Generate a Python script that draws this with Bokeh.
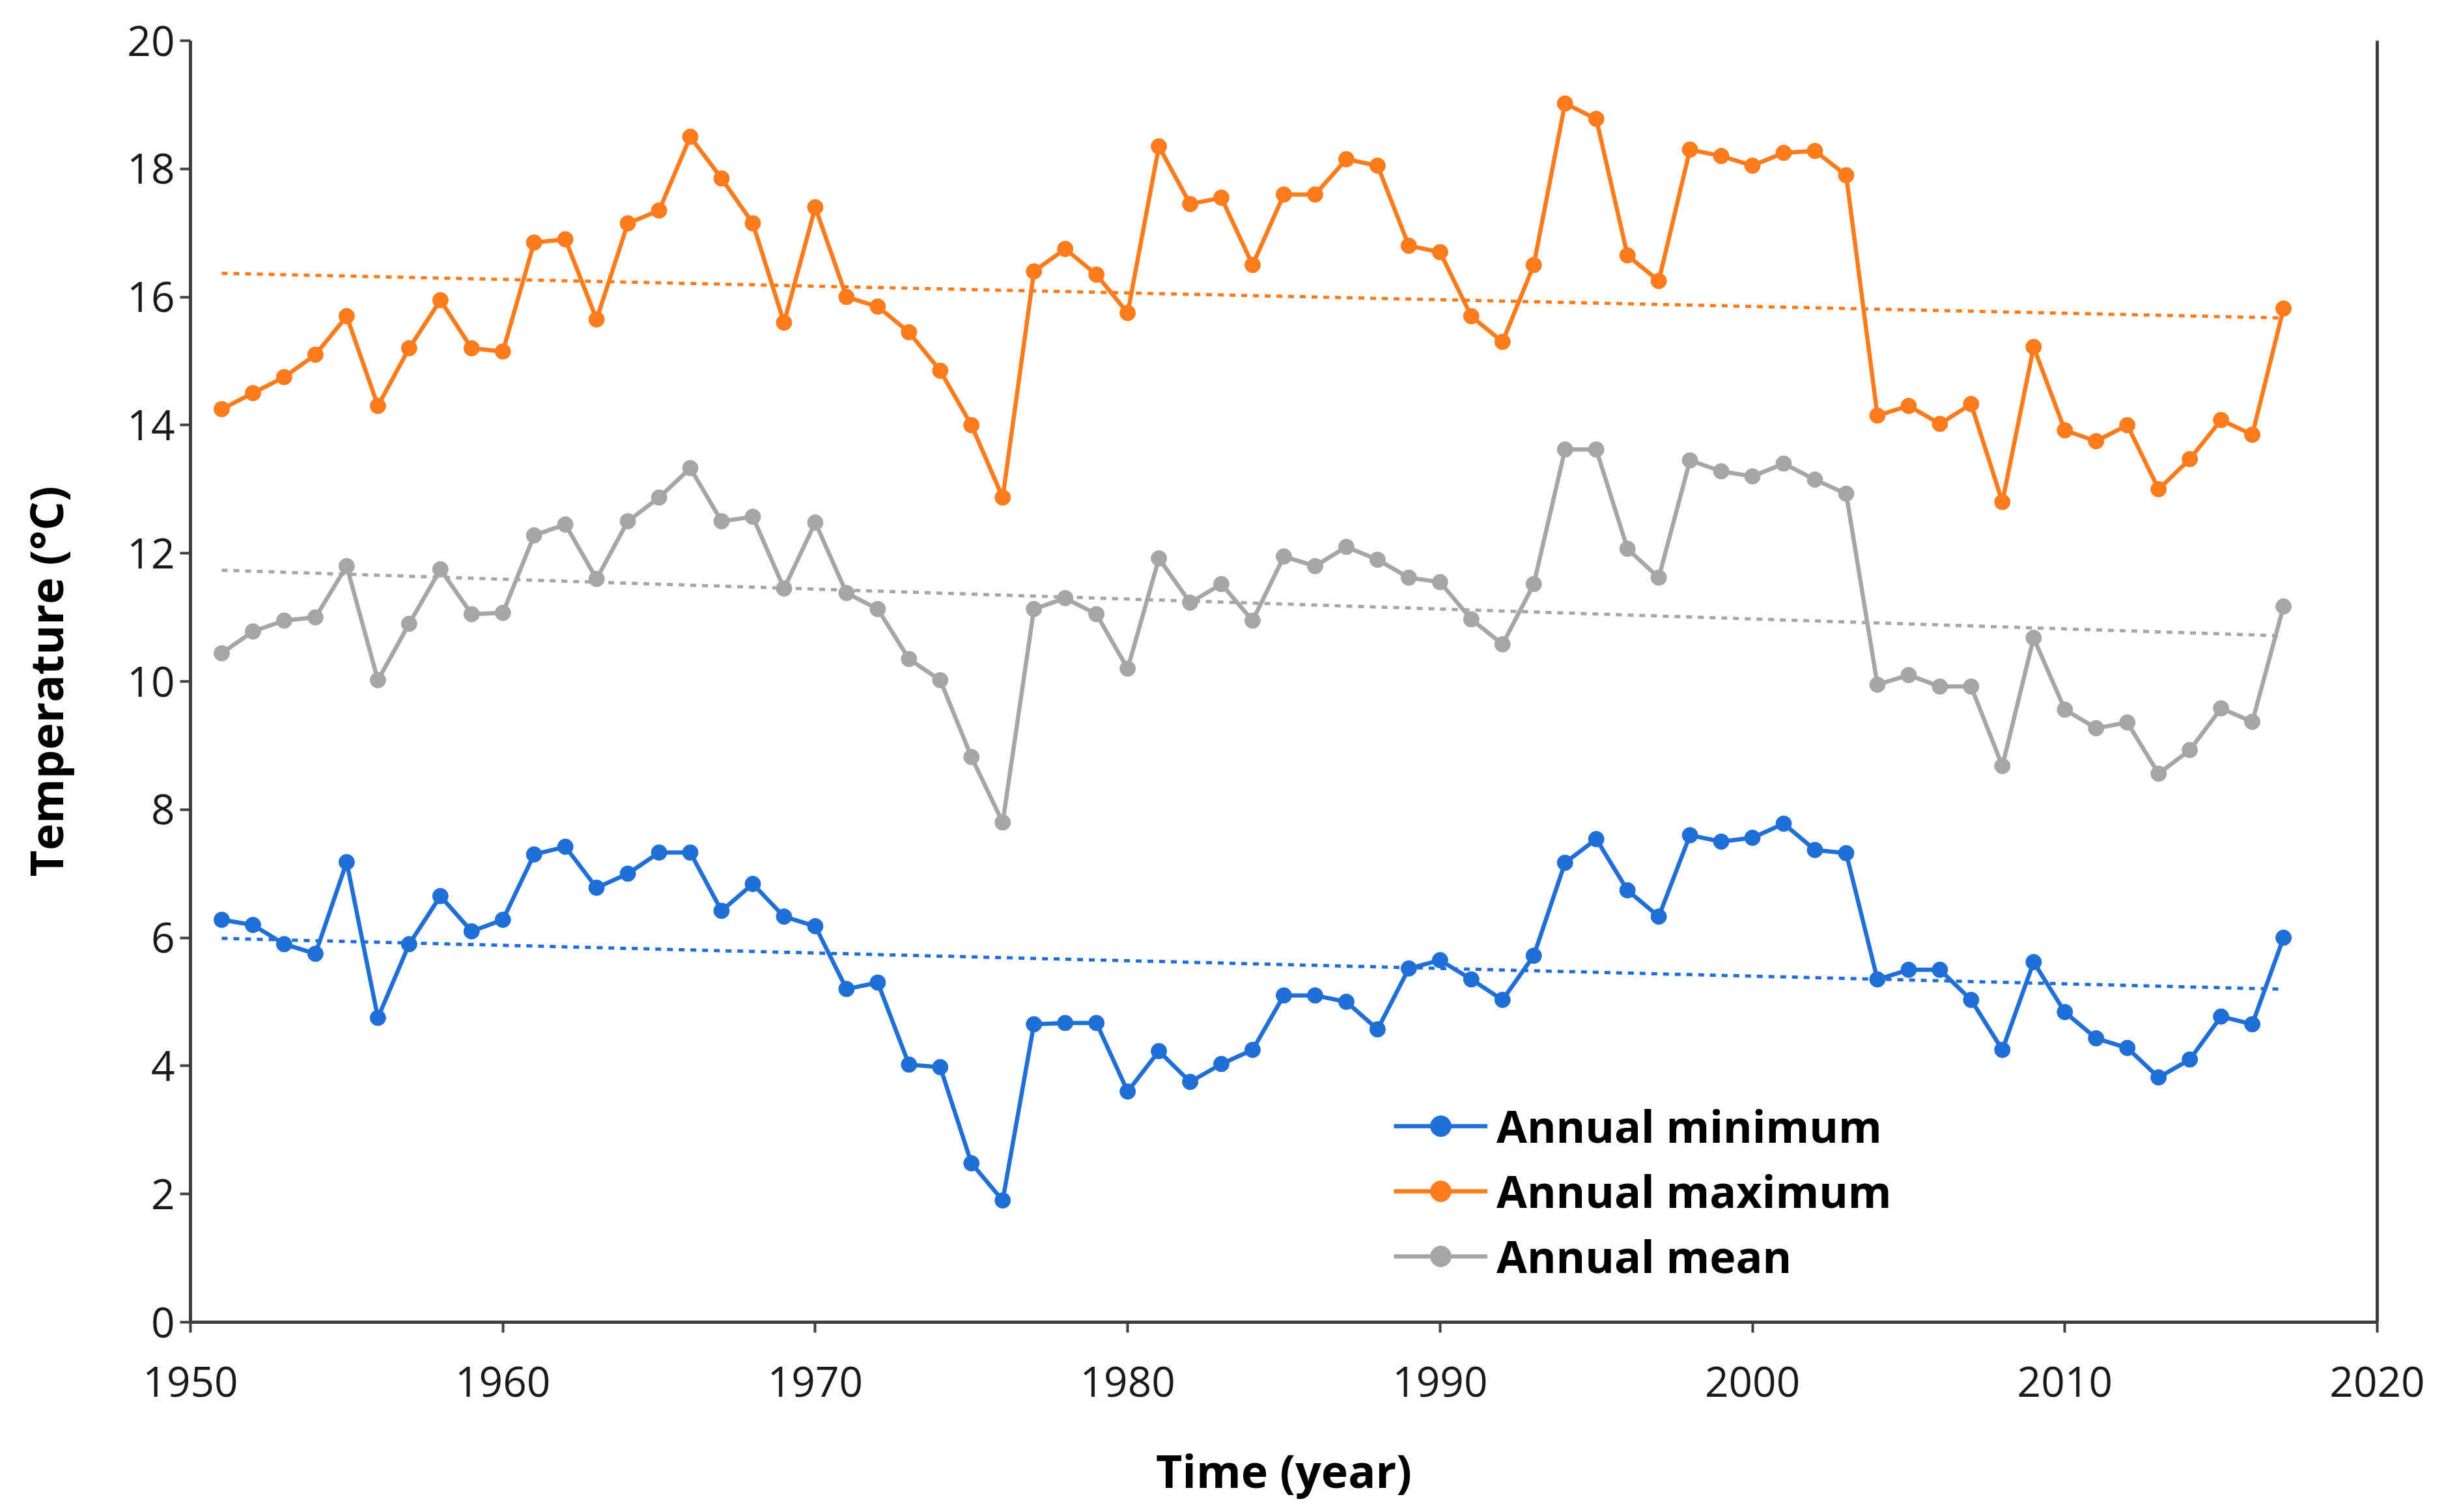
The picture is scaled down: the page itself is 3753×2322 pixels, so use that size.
import numpy as np
from bokeh.plotting import figure
from bokeh.models import Range1d, FixedTicker, LinearAxis, Legend, LegendItem
from bokeh.embed import file_html
from bokeh.resources import INLINE

years = list(range(1951, 2018))

annual_max = [14.25, 14.5, 14.75, 15.1, 15.7, 14.3, 15.2, 15.95, 15.2, 15.15,
              16.85, 16.9, 15.65, 17.15, 17.35, 18.5, 17.85, 17.15, 15.6, 17.4,
              16.0, 15.85, 15.45, 14.85, 14.0, 12.87, 16.4, 16.75, 16.35, 15.75,
              18.35, 17.45, 17.55, 16.5, 17.6, 17.6, 18.15, 18.05, 16.8, 16.7,
              15.7, 15.3, 16.5, 19.02, 18.78, 16.65, 16.25, 18.3, 18.2, 18.05,
              18.25, 18.28, 17.9, 14.15, 14.3, 14.02, 14.33, 12.8, 15.22, 13.92,
              13.75, 14.0, 13.0, 13.47, 14.08, 13.85, 15.82]

annual_mean = [10.44, 10.78, 10.95, 11.0, 11.8, 10.02, 10.9, 11.75, 11.05, 11.07,
               12.28, 12.45, 11.6, 12.5, 12.87, 13.33, 12.5, 12.57, 11.45, 12.48,
               11.38, 11.13, 10.35, 10.02, 8.82, 7.8, 11.13, 11.3, 11.05, 10.2,
               11.92, 11.23, 11.52, 10.95, 11.95, 11.8, 12.1, 11.9, 11.62, 11.55,
               10.97, 10.58, 11.52, 13.62, 13.62, 12.07, 11.62, 13.45, 13.28, 13.2,
               13.4, 13.15, 12.93, 9.95, 10.1, 9.92, 9.92, 8.68, 10.68, 9.56,
               9.27, 9.36, 8.56, 8.93, 9.58, 9.37, 11.17]

annual_min = [6.28, 6.2, 5.9, 5.75, 7.18, 4.75, 5.9, 6.65, 6.1, 6.28,
              7.3, 7.42, 6.78, 7.0, 7.33, 7.33, 6.42, 6.84, 6.33, 6.18,
              5.2, 5.3, 4.02, 3.98, 2.48, 1.9, 4.65, 4.67, 4.67, 3.6,
              4.23, 3.75, 4.03, 4.25, 5.1, 5.1, 5.0, 4.57, 5.52, 5.65,
              5.35, 5.03, 5.72, 7.17, 7.54, 6.74, 6.33, 7.6, 7.5, 7.56,
              7.78, 7.37, 7.32, 5.35, 5.5, 5.5, 5.03, 4.25, 5.62, 4.84,
              4.43, 4.28, 3.82, 4.1, 4.77, 4.65, 6.0]

x_ticks = [1950, 1960, 1970, 1980, 1990, 2000, 2010, 2020]
y_ticks = [0, 2, 4, 6, 8, 10, 12, 14, 16, 18, 20]

series_names = ["Annual minimum", "Annual maximum", "Annual mean"]
series_data = [annual_min, annual_max, annual_mean]
series_colors = ["#1F6FD6", "#FF7B1C", "#A6A6A6"]

FONT = "Open Sans"
AXIS_COLOR = "#3F3F3F"

p = figure(
    frame_width=3358, frame_height=1968,
    min_border_left=292, min_border_right=87, min_border_top=62, min_border_bottom=276,
    x_range=Range1d(1950, 2020), y_range=Range1d(0, 20),
    output_backend="svg", toolbar_location=None,
)
p.outline_line_color = None
p.grid.grid_line_color = None
p.background_fill_color = "white"
p.border_fill_color = "white"

for ax in (p.xaxis[0], p.yaxis[0]):
    ax.axis_line_color = AXIS_COLOR
    ax.axis_line_width = 5
    ax.major_tick_line_color = AXIS_COLOR
    ax.major_tick_line_width = 4
    ax.major_tick_in = 0
    ax.major_tick_out = 16
    ax.minor_tick_line_color = None
    ax.major_label_text_font = FONT
    ax.major_label_text_font_size = "64px"
    ax.major_label_text_color = "#1A1A1A"
    ax.axis_label_text_font = FONT
    ax.axis_label_text_font_size = "70px"
    ax.axis_label_text_font_style = "bold"
    ax.axis_label_text_color = "#000000"

p.xaxis[0].ticker = FixedTicker(ticks=x_ticks)
p.yaxis[0].ticker = FixedTicker(ticks=y_ticks)
p.xaxis[0].axis_label = "Time (year)"
p.yaxis[0].axis_label = "Temperature (°C)"
p.xaxis[0].major_label_standoff = 52
p.xaxis[0].axis_label_standoff = 62
p.yaxis[0].major_label_standoff = 8
p.yaxis[0].axis_label_standoff = 74

right_axis = LinearAxis(ticker=FixedTicker(ticks=[]), axis_line_color=AXIS_COLOR,
                        axis_line_width=5, major_tick_line_color=None,
                        minor_tick_line_color=None, major_label_text_color=None)
p.add_layout(right_axis, "right")

x = np.array(years, dtype=float)
items = []
for name, data, color in zip(series_names, series_data, series_colors):
    y = np.array(data, dtype=float)
    slope, intercept = np.polyfit(x, y, 1)
    tx = [years[0], years[-1]]
    ty = [slope * years[0] + intercept, slope * years[-1] + intercept]
    p.line(tx, ty, line_color=color, line_width=5, line_dash="9 9")
    r_line = p.line(years, data, line_color=color, line_width=6.5)
    r_pts = p.scatter(years, data, size=24, fill_color=color, line_color=color)
    items.append(LegendItem(label=name, renderers=[r_line, r_pts]))

legend = Legend(items=items, location=(1848, 55),
                border_line_color=None, background_fill_alpha=0,
                label_text_font=FONT, label_text_font_size="68px",
                label_text_font_style="bold", label_text_color="#000000",
                glyph_width=144, glyph_height=80, label_height=80,
                label_standoff=14, spacing=7, padding=0, margin=0)
p.add_layout(legend, "center")

open("out.html", "w").write(file_html(p, INLINE))
